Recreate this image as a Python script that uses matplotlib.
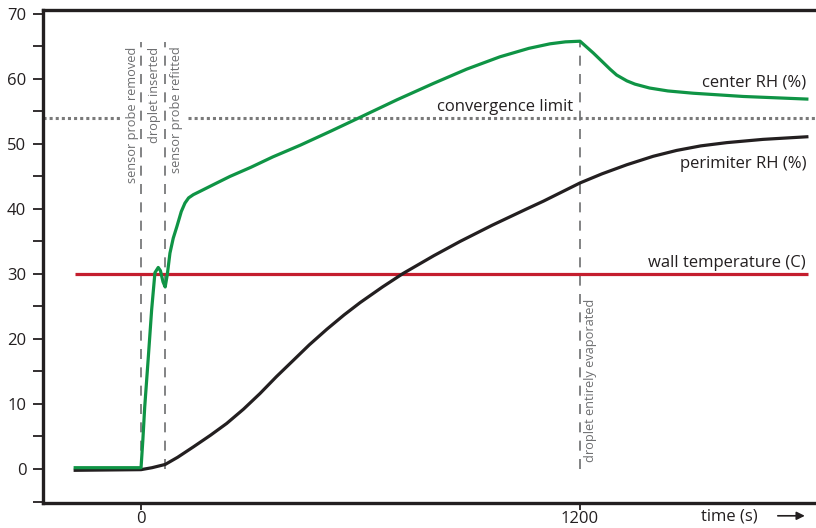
import numpy as np
import matplotlib.pyplot as plt

plt.rcParams['font.family'] = ['Open Sans', 'DejaVu Sans']

# center RH (%)
center_t = [-180, 0, 5, 10, 20, 29, 38, 47, 53, 60, 66, 72, 79, 88, 98, 110, 120,
            130, 143, 161, 200, 243, 300, 360, 435, 520, 599, 700, 799, 890, 981,
            1060, 1118, 1160, 1200, 1236, 1260, 1282, 1300, 1328, 1350, 1390, 1440,
            1509, 1646, 1820]
center_rh = [0.2, 0.2, 4.5, 9.5, 17.3, 24.5, 30.2, 31.0, 30.5, 28.8, 28.0, 30.0, 33.2,
             35.5, 37.3, 39.6, 40.9, 41.7, 42.2, 42.7, 43.8, 45.0, 46.4, 48.0, 49.8,
             52.0, 54.1, 56.8, 59.3, 61.5, 63.4, 64.7, 65.4, 65.7, 65.8, 64.0, 62.7,
             61.5, 60.6, 59.7, 59.2, 58.6, 58.15, 57.8, 57.3, 56.9]

# perimiter RH (%)
perim_t = [-180, 0, 30, 66, 100, 143, 190, 234, 280, 325, 370, 416, 460, 508, 555,
           599, 660, 717, 800, 872, 960, 1054, 1100, 1150, 1200, 1260, 1328, 1400,
           1464, 1530, 1601, 1700, 1820]
perim_rh = [-0.2, -0.1, 0.2, 0.7, 1.8, 3.4, 5.2, 7.0, 9.2, 11.6, 14.2, 16.7, 19.1,
            21.5, 23.7, 25.6, 28.0, 30.1, 32.8, 35.0, 37.5, 40.0, 41.2, 42.6, 44.0,
            45.4, 46.8, 48.1, 49.0, 49.7, 50.2, 50.7, 51.1]

wall_t = [-180, 1823]
wall_temp = [30, 30]

convergence = 54
events = [0, 66, 1200]
event_top = 65.7

fig = plt.figure(figsize=(8.16, 5.28), dpi=100)
ax = fig.add_axes([43 / 816, 25 / 528, 1 - 43 / 816, 493 / 528])
ax.set_xlim(-268, 1845)
ax.set_ylim(-5.23, 70.6)

green = '#0f9445'
red = '#c41e2e'
ink = '#231f20'
grey = '#6d6e70'

# convergence limit, broken where the vertical notes sit
ax.plot([-268, -57], [convergence] * 2, color='#7a7a7a', lw=2.2, ls=(0, (1, 1)))
ax.plot([128, 1845], [convergence] * 2, color='#7a7a7a', lw=2.2, ls=(0, (1, 1)))

for t in events:
    ax.plot([t, t], [0, event_top], color=grey, lw=1.2, ls=(0, (6, 5)))

ax.plot(wall_t, wall_temp, color=red, lw=2.3, solid_capstyle='butt')
ax.plot(perim_t, perim_rh, color=ink, lw=2.3, solid_joinstyle='round')
ax.plot(center_t, center_rh, color=green, lw=2.3, solid_joinstyle='round')

ax.text(1818, 58.8, 'center RH (%)', ha='right', va='baseline', fontsize=12, color=ink)
ax.text(1818, 46.3, 'perimiter RH (%)', ha='right', va='baseline', fontsize=12, color=ink)
ax.text(1818, 31.1, 'wall temperature (C)', ha='right', va='baseline', fontsize=12, color=ink)
ax.text(1181, 55.1, 'convergence limit', ha='right', va='baseline', fontsize=12, color=ink)

ax.text(-22, 65, 'sensor probe removed', rotation=90, ha='center', va='top', fontsize=9.2, color=grey)
ax.text(36, 65, 'droplet inserted', rotation=90, ha='center', va='top', fontsize=9.2, color=grey)
ax.text(97, 65, 'sensor probe refitted', rotation=90, ha='center', va='top', fontsize=9.2, color=grey)
ax.text(1229, 1.0, 'droplet entirely evaporated', rotation=90, ha='center', va='bottom', fontsize=9.2, color=grey)

# axes styling
ax.spines['right'].set_visible(False)
for side in ['left', 'bottom', 'top']:
    ax.spines[side].set_linewidth(2.4)
    ax.spines[side].set_color(ink)

ax.set_yticks(np.arange(-5, 71, 5))
ax.set_yticklabels(['' if v % 10 else str(v) for v in range(-5, 71, 5)])
ax.set_xticks([0, 1200])
ax.set_xticklabels(['0', '1200'])
ax.tick_params(axis='y', length=7, width=1.3, pad=5, labelsize=12, colors=ink)
ax.tick_params(axis='x', length=5, width=1.3, pad=0.5, labelsize=12, colors=ink)

ax.text(1607, -7.3, 'time (s)', ha='center', va='center', fontsize=12, color=ink, clip_on=False)
ax.annotate('', xy=(1822, -7.2), xytext=(1733, -7.2), xycoords='data', annotation_clip=False,
            arrowprops=dict(arrowstyle='-|>', color=ink, lw=1.2, mutation_scale=12))

fig.savefig('out.png', dpi=100)
